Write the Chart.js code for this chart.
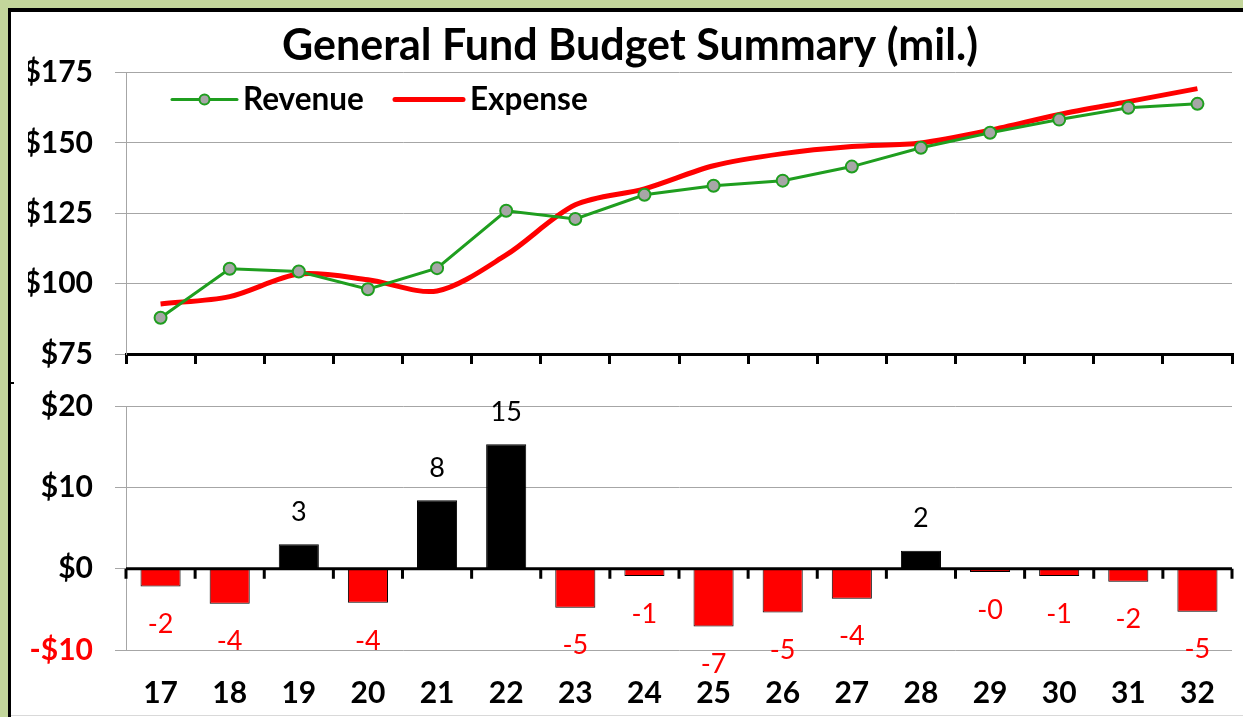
<!DOCTYPE html>
<html><head><meta charset="utf-8">
<script src="https://cdn.jsdelivr.net/npm/chart.js@4.4.1/dist/chart.umd.min.js"></script>
<style>
html,body{margin:0;padding:0;background:#fff;overflow:hidden;}
#frame{position:absolute;left:0;top:0;width:1243px;height:717px;overflow:hidden;background:#fff;}
#g1{position:absolute;left:0;top:0;width:8px;height:717px;background:#c3d69b;}
#g2{position:absolute;left:0;top:0;width:1243px;height:8px;background:#c3d69b;}
#b1{position:absolute;left:8px;top:8px;width:3px;height:709px;background:#000;}
#b2{position:absolute;left:8px;top:8px;width:1235px;height:4px;background:#000;}
#bt{position:absolute;left:11px;top:382px;width:3px;height:2px;background:#000;}
#bb{position:absolute;left:11px;top:715px;width:1232px;height:1px;background:#d9d9d9;}
#c1{position:absolute;left:11px;top:10px;}
#c2{position:absolute;left:11px;top:366px;}
</style></head>
<body>
<div id="frame">
<div id="g1"></div><div id="g2"></div><div id="b1"></div><div id="b2"></div><div id="bt"></div><div id="bb"></div>
<canvas id="c1" width="1232" height="384"></canvas>
<canvas id="c2" width="1232" height="370"></canvas>
</div>
<script>
// ---- data ----
const years = ['17','18','19','20','21','22','23','24','25','26','27','28','29','30','31','32'];
const revenue = [87.9,105.3,104.3,98.0,105.5,125.9,123.0,131.6,134.8,136.6,141.6,148.3,153.6,158.3,162.5,163.9];
const expense = [92.8,95.4,103.4,101.4,97.4,110.2,128.0,133.7,141.9,146.2,148.7,150.0,154.5,160.1,164.7,169.3];
const balance = [-2.2,-4.3,3.0,-4.2,8.4,15.3,-4.8,-0.9,-7.1,-5.4,-3.7,2.2,-0.4,-0.9,-1.6,-5.3];
const titleText = 'General Fund Budget Summary (mil.)';

const GREEN = '#1f9e1f';
const RED = '#ff0000';
const GRID = '#a6a6a6';
Chart.defaults.font.family = 'Lato, "Liberation Sans", sans-serif';

const legendPlugin = {
  id: 'inLegend',
  afterDraw(chart) {
    const {ctx, chartArea: a} = chart;
    const ds = chart.data.datasets;
    const y = a.top + 27;
    ctx.save();
    ctx.lineCap = 'round';
    let x = a.left + 46;
    ctx.strokeStyle = ds[0].borderColor; ctx.lineWidth = ds[0].borderWidth;
    ctx.beginPath(); ctx.moveTo(x, y); ctx.lineTo(x + 65, y); ctx.stroke();
    ctx.beginPath(); ctx.arc(x + 32.5, y, 5, 0, Math.PI * 2);
    ctx.fillStyle = ds[0].pointBackgroundColor; ctx.fill(); ctx.lineWidth = 2; ctx.stroke();
    ctx.fillStyle = '#000'; ctx.font = 'bold 31.5px Lato'; ctx.textBaseline = 'middle'; ctx.textAlign = 'left';
    ctx.fillText(ds[0].label, x + 71, y);
    x = a.left + 269;
    ctx.strokeStyle = ds[1].borderColor; ctx.lineWidth = ds[1].borderWidth;
    ctx.beginPath(); ctx.moveTo(x, y); ctx.lineTo(x + 68, y); ctx.stroke();
    ctx.fillText(ds[1].label, x + 75, y);
    ctx.restore();
  }
};

// zero axis line with tick marks at category boundaries, from the chart's own scales
const zeroAxisPlugin = {
  id: 'zeroAxis',
  afterDatasetsDraw(chart) {
    const {ctx} = chart;
    const xs = chart.scales.x, ys = chart.scales.y;
    const y0 = ys.getPixelForValue(0);
    const n = chart.data.labels.length;
    const step = (xs.right - xs.left) / n;
    ctx.save();
    ctx.strokeStyle = '#000'; ctx.lineWidth = 3;
    ctx.beginPath(); ctx.moveTo(xs.left, y0); ctx.lineTo(xs.right, y0); ctx.stroke();
    ctx.beginPath();
    for (let i = 0; i <= n; i++) {
      const px = xs.left + i * step;
      ctx.moveTo(px, y0); ctx.lineTo(px, y0 + 10);
    }
    ctx.stroke();
    ctx.restore();
  }
};

const labelPlugin = {
  id: 'barLabels',
  afterDatasetsDraw(chart) {
    const ctx = chart.ctx;
    const meta = chart.getDatasetMeta(0);
    const vals = chart.data.datasets[0].data;
    ctx.save();
    ctx.font = '27px Lato'; ctx.textAlign = 'center'; ctx.textBaseline = 'middle';
    meta.data.forEach((bar, i) => {
      const v = vals[i];
      const neg = v < 0;
      const txt = (neg ? '-' : '') + Math.round(Math.abs(v));
      ctx.fillStyle = neg ? RED : '#000';
      ctx.fillText(txt, bar.x, neg ? bar.y + 38 : bar.y - 32);
    });
    ctx.restore();
  }
};

new Chart(document.getElementById('c1'), {
  type: 'line',
  data: {
    labels: years,
    datasets: [
      {label: 'Revenue', data: revenue, borderColor: GREEN, borderWidth: 3, pointRadius: 6,
       pointBackgroundColor: '#a6a6a6', pointBorderColor: GREEN, pointBorderWidth: 2, tension: 0},
      {label: 'Expense', data: expense, borderColor: RED, borderWidth: 5, pointRadius: 0, tension: 0.3}
    ]
  },
  options: {
    responsive: false, animation: false, devicePixelRatio: 1,
    layout: {padding: {left: 17, right: 11, top: 0, bottom: 0}},
    plugins: {
      legend: {display: false}, tooltip: {enabled: false},
      title: {display: true, text: titleText, color: '#000',
              font: {size: 43, weight: 'bold', lineHeight: 1.2}, padding: {top: 10, bottom: 1}}
    },
    scales: {
      x: {offset: true, z: 1,
          grid: {offset: true, drawOnChartArea: false, tickLength: 10, color: '#000', lineWidth: 3},
          border: {color: '#000', width: 3}, ticks: {display: false}},
      y: {min: 75, max: 175,
          ticks: {stepSize: 25, padding: 22, color: '#000', font: {size: 30, weight: 'bold'}, callback: v => '$' + v},
          grid: {color: GRID, lineWidth: 1, tickLength: 11},
          border: {color: GRID, width: 1},
          afterFit: s => { s.width = 98; }}
    }
  },
  plugins: [legendPlugin]
});

new Chart(document.getElementById('c2'), {
  type: 'bar',
  data: {
    labels: years,
    datasets: [{label: 'Surplus / Deficit', data: balance,
      backgroundColor: c => (c.raw < 0 ? RED : '#000'), borderColor: '#000', borderWidth: 1,
      barPercentage: 0.58, categoryPercentage: 1}]
  },
  options: {
    responsive: false, animation: false, devicePixelRatio: 1,
    layout: {padding: {left: 0, right: 11, top: 40, bottom: 0}},
    plugins: {legend: {display: false}, tooltip: {enabled: false}},
    scales: {
      x: {grid: {display: false, drawTicks: false}, border: {display: false},
          ticks: {color: '#000', font: {size: 30, weight: 'bold'}, padding: 25, maxRotation: 0, autoSkip: false}},
      y: {min: -10, max: 20,
          ticks: {stepSize: 10, padding: 22, color: c => (c.tick.value < 0 ? RED : '#000'),
                  font: {size: 30, weight: 'bold'}, callback: v => (v < 0 ? '-$' + Math.abs(v) : '$' + v)},
          grid: {color: GRID, lineWidth: 1, tickLength: 11},
          border: {color: GRID, width: 1},
          afterFit: s => { s.width = 115; }}
    }
  },
  plugins: [zeroAxisPlugin, labelPlugin]
});
</script>
</body></html>
